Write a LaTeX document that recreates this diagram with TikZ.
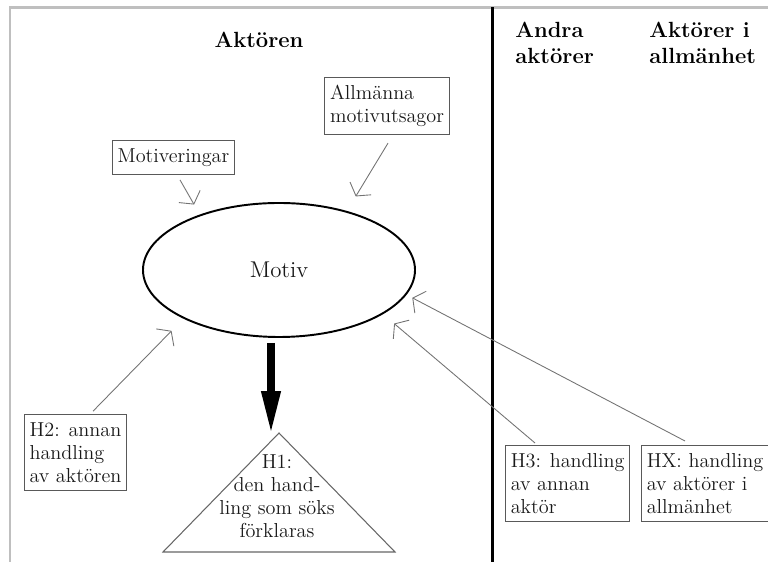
\documentclass[tikz,border=0pt]{standalone}
\usepackage{tikz}
\usetikzlibrary{calc,shapes.geometric,arrows.meta}

\tikzset{
  txt/.style = {font = \fontsize{11.5}{13}\selectfont, text = black!90},
  title/.style = {font = \fontsize{12.5}{14.5}\selectfont\bfseries, align = left, inner sep = 0pt},
  box/.style = {txt, draw = black!65, line width = 0.6pt, align = left, inner xsep = 3pt, inner ysep = 4.5pt},
  thin arrow/.style = {draw = black!55, line width = 0.5pt, -{Straight Barb[length = 5pt, width = 14pt]}}
}

\begin{document}
\begin{tikzpicture}
\useasboundingbox (0, 0) rectangle (15.36, 11.24);
%\draw[very thin, color = gray](0, 0) grid (15, 11);
\draw [black!25, line width = 1.2pt] (0.2, 0) -- (0.2, 11.09) -- (15.36, 11.09);
\draw [line width = 1.3pt] (9.85, 0) -- (9.85, 11.09);

\node [title] (aktoren) at (5.18, 10.44) {Akt\"oren};
\node [title, anchor = west] (andra) at (10.3, 10.38) {Andra\\akt\"orer};
\node [title, anchor = west] (allm) at (12.98, 10.38) {Akt\"orer i\\allm\"anhet};

\node [box] (utsagor) at (7.74, 9.12) {Allm\"anna\\motivutsagor};
\node [box] (motiveringar) at (3.47, 8.09) {Motiveringar};
\node [ellipse, draw, line width = 1.1pt, minimum width = 5.44cm, minimum height = 2.68cm,
       font = \fontsize{13}{15}\selectfont, text = black!90] (motiv) at (5.58, 5.84) {Motiv};

% handlingen som ska forklaras
\coordinate (apex) at (5.58, 2.58);
\draw [black!60, line width = 0.6pt] (3.26, 0.2) -- (apex) -- (7.9, 0.2) -- cycle;
\node [txt, align = center] (h1) at (5.54, 1.32) {H1:\\den hand-\\ling som s\"oks\\f\"orklaras};
\coordinate (h1tip) at (5.42, 2.54);
\draw [line width = 4.5pt, -{Triangle[length = 25pt, width = 10pt]}] (h1tip |- 0, 4.38) -- (h1tip);

\node [box] (h2) at (1.51, 2.19) {H2: annan\\handling\\av akt\"oren};
\node [box, anchor = north west] (h3) at (10.1, 2.34) {H3: handling\\av annan\\akt\"or};
\node [box, anchor = north west] (hx) at (12.82, 2.34) {HX: handling\\av akt\"orer i\\allm\"anhet};

\draw [thin arrow, shorten >= 0.23cm] ($(motiveringar.south) + (0.13, -0.1)$) -- (motiv.145);
\draw [thin arrow, shorten >= 0.34cm] ($(utsagor.south) + (0.02, -0.16)$) -- (motiv.41);
\draw [thin arrow, shorten >= 0.34cm] ($(h2.north) + (0.35, 0.06)$) -- (motiv.207);
\draw [thin arrow, shorten >= 0.29cm] ($(h3.north west) + (0.6, 0.04)$) -- (motiv.-23);
\draw [thin arrow, shorten >= 0.13cm] ($(hx.north west) + (0.88, 0.08)$) -- (motiv.-11);
\end{tikzpicture}
\end{document}
